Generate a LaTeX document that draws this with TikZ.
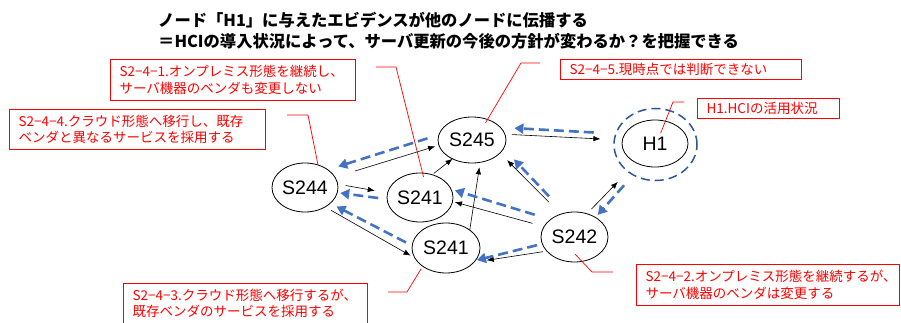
\documentclass[tikz,border=0pt]{standalone}
\usepackage{fontspec}
\setmainfont{Liberation Sans}
\newfontfamily\jpfont{Noto Sans CJK JP}
\newfontfamily\lsfont{Liberation Sans}
\usetikzlibrary{shapes.geometric,arrows.meta}
\definecolor{arrowblue}{HTML}{4472C4}
\definecolor{ringblue}{HTML}{2F5597}
\definecolor{callred}{HTML}{FF0000}
\begin{document}
\begin{tikzpicture}[x=1pt,y=-1pt,
  state/.style={ellipse,draw=black,line width=0.8pt,inner sep=0pt,outer sep=0pt,font=\lsfont\fontsize{19.5}{20}\selectfont},
  flow/.style={draw=black,line width=0.6pt,-{Latex[length=7pt,width=5.5pt]}},
  evid/.style={draw=arrowblue,line width=2.6pt,dash pattern=on 10pt off 5pt,-{Triangle[length=9pt,width=10pt]}},
  callout/.style={draw=callred,line width=1.1pt,text=callred,anchor=north west,inner xsep=9pt,inner ysep=0pt,align=left,font=\jpfont\fontsize{13.5}{16.5}\selectfont},
  leader/.style={draw=callred,line width=0.7pt},
  titletext/.style={anchor=west,inner sep=0pt,font=\jpfont\bfseries\fontsize{16.3}{20}\selectfont}
]
\fill[white] (0,0) rectangle (901,323);
\useasboundingbox (0,0) rectangle (901,323);

% title
\node[titletext] (t1) at (158,20) {ノード「H1」に与えたエビデンスが他のノードに伝播する};
\node[titletext] (t2) at (158,41) {＝HCIの導入状況によって、サーバ更新の今後の方針が変わるか？を把握できる};

% states
\node[state,minimum width=68pt,minimum height=46pt] (S245) at (472,140) {S245};
\node[state,minimum width=66pt,minimum height=47pt] (H1) at (655,143.5) {H1};
\node[ellipse,draw=ringblue,line width=1.5pt,dash pattern=on 9pt off 5pt,inner sep=0pt,outer sep=0pt,minimum width=83pt,minimum height=72pt] (H1ring) at (655.5,144.5) {};
\node[state,minimum width=66pt,minimum height=49pt] (S244) at (305,187.5) {S244};
\node[state,minimum width=66pt,minimum height=49pt] (S241a) at (420,197.5) {S241};
\node[state,minimum width=68pt,minimum height=50pt] (S241b) at (446,248) {S241};
\node[state,minimum width=67pt,minimum height=50pt] (S242) at (574.5,237) {S242};

% black influence arrows
\draw[flow,shorten <=7pt,shorten >=22pt] (S245.10) -- (H1.174);
\draw[flow,shorten <=21pt,shorten >=4pt] (S244.19) -- (S245.-171);
\draw[flow,shorten <=8pt,shorten >=13pt] (S244.6) -- (S241a.172);
\draw[flow,shorten <=2pt] (S241a.62) -- (S245.-136);
\draw[flow,shorten >=5pt] (S241b.37) -- (S245.-70);
\draw[flow,shorten <=7pt,shorten >=5pt] (S244.-44) -- (S241b.-162);
\draw[flow,shorten <=17pt,shorten >=10pt] (S242.121) -- (S245.-25);
\draw[flow,shorten <=12pt,shorten >=2.5pt] (S242.161) -- (S241a.-7);
\draw[flow,shorten <=4pt,shorten >=13pt] (S242.-153) -- (S241b.-27);
\draw[flow,shorten <=6.5pt,shorten >=26.5pt] (S242.62) -- (H1.-134);

% blue evidence propagation arrows
\draw[evid,shorten <=31pt,shorten >=14pt] (H1.163) -- (S245.24);
\draw[evid,shorten <=12pt,shorten >=11pt] (S245.171) -- (S244.38);
\draw[evid,shorten <=23pt,shorten >=15pt] (S242.112) -- (S245.-15);
\draw[evid,shorten <=16.5pt,shorten >=4pt] (S242.144) -- (S241a.15);
\draw[evid,shorten <=9pt,shorten >=3pt] (S241a.-177) -- (S244.-9);
\draw[evid,shorten <=7pt,shorten >=7pt] (S241b.176) -- (S244.-32);
\draw[evid,shorten <=5.5pt,shorten >=1.5pt] (S242.-168) -- (S241b.-23);
\draw[evid,shorten <=27pt,shorten >=3.5pt] (H1.-121) -- (S242.43);

% callout boxes
\node[callout,minimum width=245pt,minimum height=41pt,text width=227pt] (c1) at (110,59) {S2−4−1.オンプレミス形態を継続し、\\サーバ機器のベンダも変更しない};
\node[callout,minimum width=256pt,minimum height=40pt,text width=238pt] (c4) at (9,109) {S2−4−4.クラウド形態へ移行し、既存\\ベンダと異なるサービスを採用する};
\node[callout,minimum width=241pt,minimum height=20pt,text width=223pt] (c5) at (560,59) {S2−4−5.現時点では判断できない};
\node[callout,minimum width=142pt,minimum height=20pt,text width=124pt] (ch) at (697,98) {H1.HCIの活用状況};
\node[callout,minimum width=244pt,minimum height=40pt,text width=226pt] (c3) at (123,283) {S2−4−3.クラウド形態へ移行するが、\\既存ベンダのサービスを採用する};
\node[callout,minimum width=263pt,minimum height=41pt,text width=245pt] (c2) at (636,264) {S2−4−2.オンプレミス形態を継続するが、\\サーバ機器のベンダは変更する};

% leader lines
\coordinate (l1) at (376,67);
\coordinate (l4) at (287,115);
\coordinate (l5) at (540,63);
\coordinate (lh) at (684,102);
\coordinate (l3) at (388,292);
\coordinate (l2) at (613,272);
\draw[leader,shorten >=-4pt] (l1) -- ++(20,0) -- (S241a.84);
\draw[leader] (l4) -- ++(21,0) -- (S244.60);
\draw[leader,shorten >=-4pt] (l5) -- ++(-19,0) -- (S245.53);
\draw[leader,shorten >=-13pt] (lh) -- ++(-11,0) -- (H1.65);
\draw[leader,shorten >=3pt] (l3) -- ++(19,0) -- (S241b.218);
\draw[leader,shorten >=-10pt] (l2) -- ++(-21,0) -- (S242.-73);
\end{tikzpicture}
\end{document}
